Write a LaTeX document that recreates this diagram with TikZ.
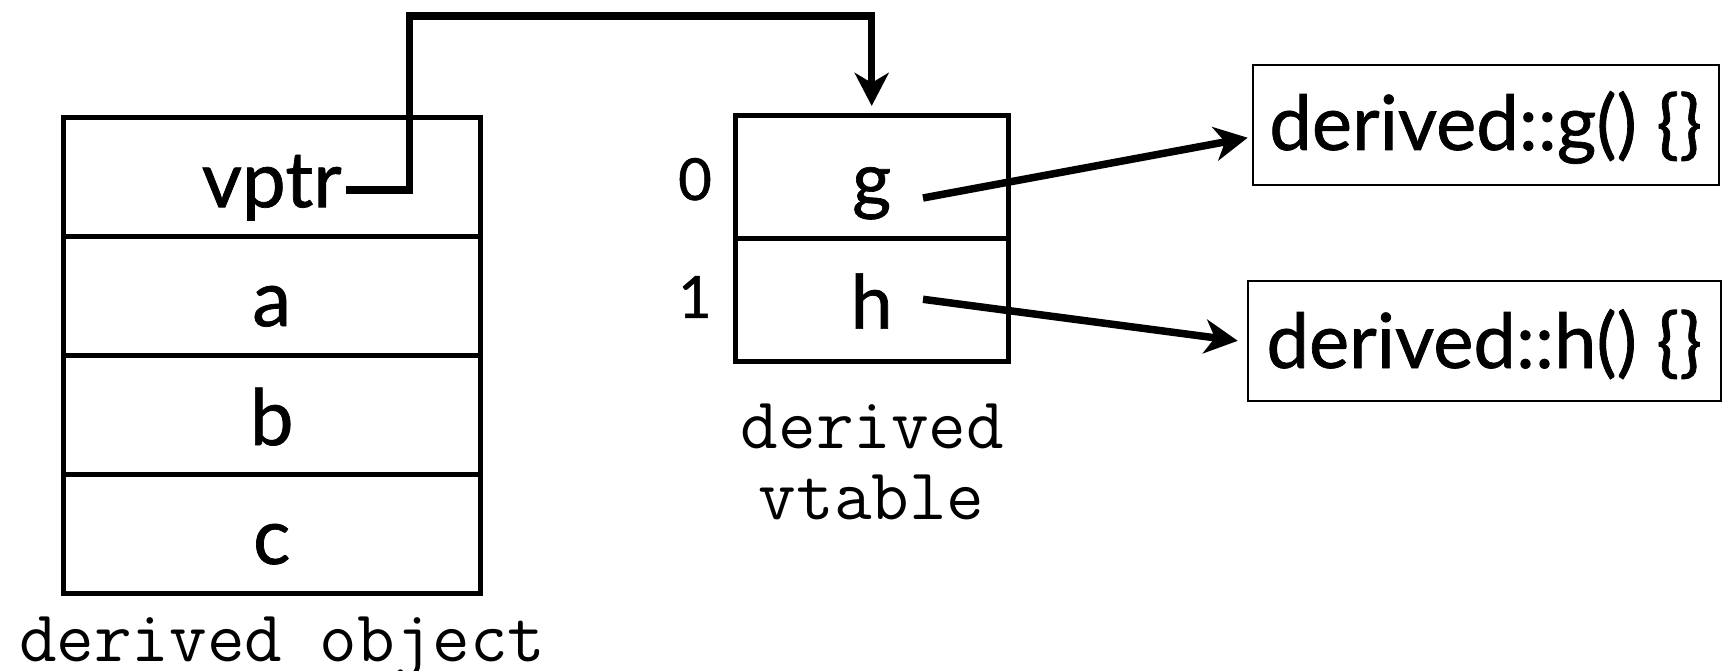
\documentclass[tikz,border=0pt]{standalone}
\usepackage{fontspec}
\setmainfont{Lato}[FakeBold=0.9]
\usetikzlibrary{arrows.meta}
\begin{document}
\begin{tikzpicture}[x=1pt,y=-1pt,
  objcell/.style={draw,line width=5pt,minimum width=417.2pt,minimum height=118.95pt,inner sep=0pt,
    font=\fontsize{78}{78}\selectfont,text height=60pt,text depth=0pt},
  vtcell/.style={draw,line width=5pt,minimum width=273.3pt,minimum height=122.8pt,inner sep=0pt,
    font=\fontsize{75}{75}\selectfont,text height=58pt,text depth=0pt},
  funbox/.style={draw,line width=2.2pt,minimum height=120pt,inner sep=0pt,
    font=\fontsize{76}{76}\selectfont,text depth=0pt},
  idx/.style={anchor=base,font=\fontsize{58}{58}\selectfont},
  monolbl/.style={anchor=base,font=\ttfamily\fontsize{73}{73}\selectfont},
  ptr/.style={line width=7.5pt,-{Stealth[length=33pt,width=34pt,inset=10pt]}}
]
\useasboundingbox (0,0) rectangle (1735,671);

% derived object
\node[objcell] (vp) at (271.7,177.2) {vptr};
\node[objcell] (ca) at (271.7,296.1) {a};
\node[objcell] (cb) at (271.7,415.1) {b};
\node[objcell] (cc) at (271.7,534.0) {c};
\node[monolbl] (objlbl) at (282.2,661) {derived object};

% vtable
\node[vtcell] (vt0) at (871.7,176.8) {g};
\node[vtcell] (vt1) at (871.7,299.6) {h};
\node[idx] (i0) at (695,200) {0};
\node[idx] (i1) at (695,317.8) {1};
\node[monolbl] (vtl1) at (872.5,448) {derived};
\node[monolbl] (vtl2) at (871.7,519.6) {vtable};

% functions
\node[funbox,minimum width=466pt,text height=50pt] (gfun) at (1485.7,125) {derived::g() \{\}};
\node[funbox,minimum width=473pt,text height=54pt] (hfun) at (1484.3,341) {derived::h() \{\}};

% connectors
\coordinate (vps) at (346,190);
\coordinate (bend) at (409.5,16);
\coordinate (gs) at (923,198);
\coordinate (hs) at (923,299.3);

\draw[ptr,shorten >=7pt] (vps) -| (bend) -| (vt0.north);
\draw[ptr,shorten >=4pt] (gs) -- ([yshift=-12pt]gfun.west);
\draw[ptr,shorten >=9pt] (hs) -- ([yshift=-1pt]hfun.west);
\end{tikzpicture}
\end{document}
